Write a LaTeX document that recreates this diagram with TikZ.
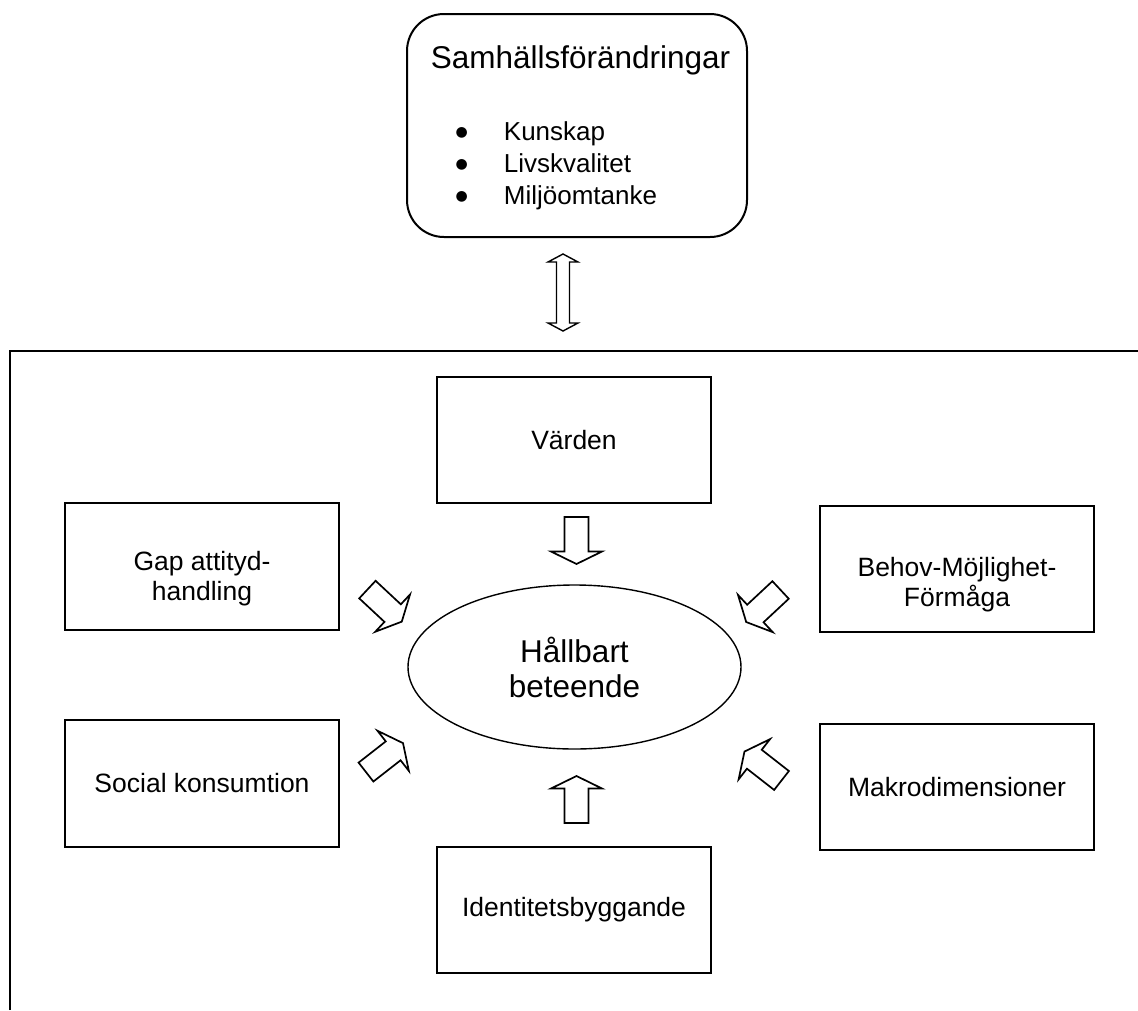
\documentclass[tikz,border=0pt]{standalone}
\usepackage{fontspec}
\setmainfont{Liberation Sans}
\newfontfamily\dejavufam{DejaVu Sans}
\usetikzlibrary{shapes.geometric}
\newcommand{\bigbullet}{\raisebox{3.2pt}{\dejavufam\fontsize{14}{14}\selectfont ●}}
\tikzset{
  barrow/.pic={
    \draw[line width=1.7pt, line join=miter, fill=white]
      (-23.5,-12) -- (11,-12) -- (11,-25.5) -- (23.5,0) -- (11,25.5) -- (11,12) -- (-23.5,12) -- cycle;
  },
  dblarrow/.pic={
    \draw[line width=1.4pt, line join=miter, fill=white]
      (0,-38.5) -- (15,-30.5) -- (6.5,-30.5) -- (6.5,30.5) -- (15,30.5) -- (0,38.5)
      -- (-15,30.5) -- (-6.5,30.5) -- (-6.5,-30.5) -- (-15,-30.5) -- cycle;
  }
}
\begin{document}
\begin{tikzpicture}[x=1pt,y=-1pt,
  boxst/.style={draw, line width=1.8pt, minimum width=274pt, minimum height=126pt,
    inner sep=0pt, font=\fontsize{26.5}{30}\selectfont, align=center},
  boxtext/.style={font=\fontsize{26.5}{30}\selectfont, align=center, inner sep=0pt},
  listtext/.style={font=\fontsize{26}{32}\selectfont, inner sep=0pt},
  bigtext/.style={font=\fontsize{31.5}{35}\selectfont, inner sep=0pt, align=center},
  framest/.style={line width=2.2pt}
]
\useasboundingbox (0,0) rectangle (1138,1010);

% top rounded box
\node[draw, line width=2pt, rounded corners=37pt, minimum width=340pt, minimum height=223pt] (samh) at (577,125.5) {};
\node[bigtext, anchor=base] (samhT) at (580.5,68) {Samhällsförändringar};
\node[listtext, anchor=base west] (list) at (455.5,140) {%
  \begin{tabular}[t]{@{}c@{\hspace{36pt}}l@{}}
  \bigbullet & Kunskap\\
  \bigbullet & Livskvalitet\\
  \bigbullet & Miljöomtanke
  \end{tabular}};

% double arrow
\coordinate (dbl) at (563,292.5);
\pic at (dbl) {dblarrow};

% frame
\coordinate (fbl) at (10,1010);
\coordinate (ftl) at (10,351);
\coordinate (ftr) at (1138,351);
\draw[framest] (fbl) -- (ftl) -- (ftr);

% boxes
\node[boxst] (varden) at (574,440) {Värden};
\node[boxst, minimum height=127pt] (gap) at (202,566.5) {};
\node[boxtext] (gapT) at (202,579) {Gap attityd-\\handling};
\node[boxst] (behov) at (957,569) {};
\node[boxtext] (behovT) at (957,585) {Behov-Möjlighet-\\Förmåga};
\node[boxst, minimum height=127pt] (social) at (202,783.5) {Social konsumtion};
\node[boxst] (makro) at (957,787) {Makrodimensioner};
\node[boxst] (ident) at (574,910) {Identitetsbyggande};

% ellipse
\node[ellipse, draw, line width=1.4pt, minimum width=333pt, minimum height=164pt,
  inner sep=0pt, font=\fontsize{31.5}{35}\selectfont, align=center] (hb) at (574.5,667) {Hållbart\\beteende};

% block arrows
\pic[rotate=-90] at (576.5,540.5) {barrow};
\pic[rotate=90] at (576.5,799.5) {barrow};
\pic[rotate=-43] at (384.6,605.6) {barrow};
\pic[rotate=38] at (384.5,757.6) {barrow};
\pic[rotate=223] at (763.4,606) {barrow};
\pic[rotate=142] at (763,766) {barrow};
\end{tikzpicture}
\end{document}
